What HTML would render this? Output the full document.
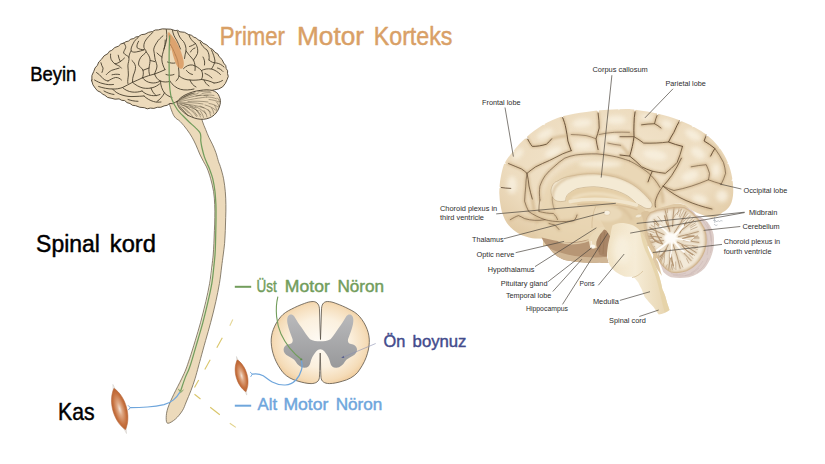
<!DOCTYPE html>
<html lang="tr">
<head>
<meta charset="utf-8">
<title>Primer Motor Korteks</title>
<style>
html,body{margin:0;padding:0;background:#fff;}
body{width:825px;height:464px;overflow:hidden;font-family:"Liberation Sans",sans-serif;}
svg{display:block;position:absolute;left:0;top:0;}
.big{font-family:"Liberation Sans",sans-serif;stroke-width:0.45;stroke-linejoin:round;}
.bk{stroke:#000;stroke-width:0.5;}
.lab{font-family:"Liberation Sans",sans-serif;font-size:7.3px;fill:#2e2e2e;}
.ld{stroke:#4a453e;stroke-width:0.7;fill:none;}
</style>
</head>
<body>
<svg width="825" height="464" viewBox="0 0 825 464">
<defs>
<radialGradient id="mus" cx="0.5" cy="0.5" r="0.5">
<stop offset="0" stop-color="#f1e0d2"/>
<stop offset="0.3" stop-color="#dfa884"/>
<stop offset="0.75" stop-color="#c6713f"/>
<stop offset="1" stop-color="#b8612f"/>
</radialGradient>
<radialGradient id="scg" cx="0.5" cy="0.5" r="0.55">
<stop offset="0" stop-color="#fefbf5"/>
<stop offset="0.55" stop-color="#fbf0de"/>
<stop offset="0.85" stop-color="#f5dcb8"/>
<stop offset="1" stop-color="#efc896"/>
</radialGradient>
<linearGradient id="gm" x1="0" y1="0" x2="0" y2="1">
<stop offset="0" stop-color="#b9b9bb"/>
<stop offset="1" stop-color="#98999b"/>
</linearGradient>
<filter id="b1" x="-20%" y="-20%" width="140%" height="140%"><feGaussianBlur stdDeviation="1"/></filter>
<filter id="b2" x="-20%" y="-20%" width="140%" height="140%"><feGaussianBlur stdDeviation="2"/></filter>
<filter id="b3" x="-30%" y="-30%" width="160%" height="160%"><feGaussianBlur stdDeviation="3.5"/></filter>
<filter id="b03" x="-10%" y="-10%" width="120%" height="120%"><feGaussianBlur stdDeviation="0.35"/></filter>
<filter id="b05" x="-20%" y="-20%" width="140%" height="140%"><feGaussianBlur stdDeviation="0.5"/></filter>
</defs>

<!-- ================= LEFT: SCHEMATIC ================= -->
<g id="left-schematic">
<!-- brainstem + spinal cord -->
<path id="cord" d="M168.0,100.0 C169.0,102.6 171.8,112.2 173.9,115.8 C176.0,119.4 178.2,119.3 180.3,121.6 C182.5,123.9 184.9,126.8 186.8,129.4 C188.8,132.0 190.5,134.6 192.0,137.2 C193.5,139.8 194.6,142.1 195.9,144.9 C197.2,147.7 198.4,151.2 199.7,154.0 C201.0,156.8 202.4,159.4 203.6,161.7 C204.8,164.0 205.8,165.2 207.0,168.0 C208.2,170.8 209.6,174.9 210.7,178.8 C211.8,182.8 212.9,187.4 213.6,191.7 C214.3,196.0 214.5,200.3 214.7,204.6 C214.9,208.9 214.9,213.3 214.8,217.6 C214.8,221.9 214.6,226.2 214.4,230.5 C214.2,234.8 214.1,239.3 213.9,243.4 C213.7,247.5 213.5,251.1 213.2,255.0 C212.8,258.9 212.4,262.2 211.8,267.0 C211.2,271.8 210.6,277.8 209.6,283.6 C208.6,289.4 207.3,295.2 205.8,301.7 C204.3,308.2 202.3,315.9 200.6,322.4 C198.8,328.9 197.1,334.5 195.3,340.5 C193.5,346.5 191.2,353.9 189.6,358.6 C188.0,363.4 187.3,365.6 186.0,369.0 C184.7,372.4 183.6,374.6 181.6,378.8 C179.6,383.0 176.1,389.5 173.8,394.3 C171.5,399.1 169.2,404.0 167.9,407.9 C166.6,411.8 166.2,415.0 166.2,417.6 C166.2,420.2 166.2,423.1 167.8,423.3 C169.4,423.5 173.1,421.1 175.5,419.0 C177.9,416.9 180.5,413.6 182.3,410.8 C184.1,408.0 184.8,405.4 186.2,402.0 C187.6,398.6 189.5,394.3 191.0,390.4 C192.5,386.5 193.8,382.7 195.0,378.8 C196.2,374.9 197.4,370.4 198.3,367.0 C199.2,363.6 199.4,363.0 200.6,358.6 C201.8,354.2 203.9,346.5 205.6,340.5 C207.3,334.5 209.0,328.9 210.7,322.4 C212.4,315.9 214.4,308.2 215.8,301.7 C217.2,295.2 218.4,289.4 219.4,283.6 C220.4,277.8 221.0,271.8 221.6,267.0 C222.2,262.2 222.7,258.9 223.2,255.0 C223.7,251.1 224.2,247.5 224.6,243.4 C224.9,239.3 225.1,234.8 225.3,230.5 C225.5,226.2 225.6,221.9 225.7,217.6 C225.8,213.3 226.0,208.9 225.9,204.6 C225.8,200.3 225.7,196.0 225.3,191.7 C224.9,187.4 224.4,183.0 223.6,178.8 C222.8,174.6 221.2,169.3 220.3,166.5 C219.5,163.7 219.2,164.0 218.5,161.7 C217.8,159.4 216.9,155.5 215.9,152.7 C214.9,149.9 213.9,147.5 212.7,144.9 C211.5,142.3 210.0,139.8 208.8,137.2 C207.6,134.6 206.7,132.1 205.6,129.4 C204.5,126.7 203.2,123.9 202.3,121.0 C201.4,118.1 202.1,115.5 200.0,112.0 C197.9,108.5 191.7,102.0 190.0,100.0 Z" fill="#ecdabb" stroke="#6e6553" stroke-width="0.8"/>

<!-- cartoon brain -->
<g id="cartoon-brain" stroke-linecap="round" stroke-linejoin="round">
<path d="M91.8,80.0 Q91.0,75.2 93.8,71.3 Q94.5,67.6 97.4,65.3 Q98.2,61.6 101.3,59.5 Q103.5,55.2 108.0,53.5 Q108.9,50.7 111.8,50.3 Q114.4,46.9 118.6,46.1 Q120.4,43.2 123.8,43.2 Q125.7,41.2 128.4,41.1 Q130.5,38.6 133.8,38.5 Q135.6,36.4 138.4,36.6 Q141.2,33.9 145.0,34.2 Q148.4,31.8 152.5,31.5 Q155.1,29.3 158.3,29.9 Q162.2,28.3 166.3,29.0 Q170.9,28.6 175.1,30.6 Q178.0,29.4 179.9,31.8 Q184.8,31.4 188.5,34.5 Q191.8,34.7 193.9,37.2 Q196.7,37.4 198.1,39.9 Q201.4,40.3 203.1,43.2 Q207.2,44.3 209.6,47.8 Q213.2,49.0 215.0,52.3 Q218.3,53.2 219.1,56.6 Q222.6,59.1 223.7,63.1 Q226.5,65.2 226.2,68.6 Q228.4,70.6 227.5,73.4 Q229.2,76.5 227.2,79.4 Q225.8,83.7 222.6,86.9 Q218.9,89.5 214.3,89.8 Q210.4,91.7 206.3,90.2 Q203.4,91.8 200.3,90.6 Q197.8,92.7 194.5,92.0 Q192.7,94.5 189.8,93.6 Q188.0,95.8 185.2,95.7 Q183.4,98.5 180.2,98.9 Q178.7,101.8 175.4,102.2 Q172.9,104.5 169.6,103.5 Q167.4,105.9 164.1,105.9 Q161.0,107.9 157.3,107.3 Q154.0,109.1 150.3,108.1 Q147.2,109.7 144.4,107.7 Q139.7,107.8 135.6,105.7 Q132.3,106.0 130.0,103.5 Q126.7,103.2 124.7,100.6 Q121.6,100.9 119.1,98.9 Q115.0,99.8 111.1,98.2 Q107.3,98.2 104.8,95.2 Q102.2,94.6 100.8,92.3 Q97.0,91.5 95.2,88.1 Q92.4,85.1 91.8,81.0 Q90.1,80.6 91.8,80.0 Z" fill="#ecdabb" stroke="#4a4030" stroke-width="0.9"/>
<g fill="none" stroke="#3f3626" stroke-width="0.85">
<path d="M123.6,42.8 C125,44.5 125.9,46 125.7,47.6 C125,49.8 123.5,51.3 123.6,53 C124.8,55 127.8,55.6 128.9,57.3 C129.5,60 127.9,63 127.9,65.9 C127.8,69 128.6,72 128.4,75 C128.2,78 127.3,80.5 127.9,83.5"/>
<path d="M138.6,36.9 C136.5,39 134.3,40.8 133.3,43.3 C132,45.8 130.6,48.5 131.1,50.9 C132.6,52.4 134.7,52.3 136.5,51.9 C139,51.5 141.6,50.8 144,49.8"/>
<path d="M138.6,41.2 C137.5,43.3 136.6,45.4 137,47.6 C139,49.3 141.6,49.6 144,49.8"/>
<path d="M152.7,32.5 C150,35.3 146.8,38 145.1,41.2 C144,43.3 143.6,45.5 144,47.6 C144.5,49.3 146.3,50.4 146.2,51.9 C145,54 142,55.3 140.8,57.3 C139.3,59.7 138.3,62.3 138.6,64.9 C139.6,67 142.2,68.3 143,70.3 C143.6,72.8 143.4,75.5 142.5,77.8"/>
<path d="M163,35.8 C160.8,37.8 158.4,39.7 157,42.2 C155.5,44.5 153.9,47.2 153.7,49.8 C153.7,52.4 154.9,54.7 154.8,57.3 C155,60.3 156.7,63 157,65.9 C157,68.8 155.3,71.3 154.6,74"/>
<path d="M110.6,54.1 C110.4,56 110.5,57.9 111.2,59.5 C112,61.3 113.4,62.8 114.9,63.8 C116.8,63.6 118.6,62.7 120.3,61.6 C121.8,60.5 123.2,59.3 124.5,58"/>
<path d="M118.2,55.2 C118.6,57.5 119.3,59.6 120.3,61.6"/>
<path d="M114.9,63.8 C116.5,64.9 118.2,65.5 119.2,66 C120.2,66.8 121,67.5 121.4,68.1"/>
<path d="M100.9,62.7 C101.3,64.6 102.2,66.5 103.1,68.1 C103,69.6 102.5,71 102,72.4"/>
<path d="M106.3,74.6 C108,72.8 109.8,71.3 111.7,70.3 C114,69.5 116.8,68.9 119.2,68.1"/>
<path d="M150.5,60.6 C152,60.9 153.5,61.2 154.8,61.6"/>
<path d="M96.5,72.5 C98.5,73.8 100.5,75.5 102,77.5 C103.5,79.3 105.6,80.6 108,81"/>
<path d="M94.5,80 C97,81.5 100,83 103,83.6 C106.5,84.6 110,85 113.5,84.5"/>
<path d="M98.6,86.5 C103,88 108,89 112.5,89 C116,89.2 119.5,88.6 122.5,87.5 C126,86 129,84 132.5,82.3 C136,80.8 139.5,79.3 142.5,77.8 C146.5,76.3 150.5,75 154.6,74 C158,72.8 161.5,71.3 165,69.7"/>
<path d="M108,81 C110.5,79.5 113,78 115.5,77.5 C118,77.3 120,78.5 121.5,80"/>
<path d="M112,74.8 C114.5,74.2 117,74 119.5,74.5"/>
<path d="M131.1,50.9 C129.8,53 129,55.2 128.9,57.3"/>
<path d="M132,60.5 C133.8,62 135,64 135.5,66.5 C135.7,69.5 134.6,72.3 133.5,75 C132.8,77 132.4,79.5 132.5,82"/>
<path d="M146.2,51.9 C148,54 149.6,56.5 150,59 C150.3,62 149.4,65 149,68 C148.8,70.2 148.9,72.5 149.5,74.5"/>
<path d="M143,70.3 C145,69.5 147,68.8 149,68"/>
<path d="M112.5,89 C115,92 118.5,94 122,95 C126,96.3 130,96.8 134,96.5 C137.5,96.3 141,96.3 144,96"/>
<path d="M104,91 C107,92.8 110.5,94 114,94.5"/>
<path d="M122.5,87.5 C125,90 128.5,91.6 132,92 C135.5,92.5 139,92 142,91"/>
<path d="M132.5,82.3 C135.5,85 139,87 143,88 C146.5,88.6 150,88.5 153,87.5 C155.5,86.8 157.5,85.5 159.5,84"/>
<path d="M144,96 C146.5,98.5 150,100.5 153.5,101.5 C156,102.3 158.5,102.3 161,102"/>
<path d="M142,91 C144.5,93.5 148,95 151.5,95.5 C154.5,96 157.5,95.5 160,94.5"/>
<path d="M128,99.5 C131,100.5 134.5,101.3 138,101.3"/>
<path d="M142.5,77.8 C144.5,80.5 147.5,82.3 151,82.8 C154,83.3 157,82.8 159.5,81.5"/>
<path d="M154.6,74 C155.5,77 157.5,79.8 160.5,81 C163.5,82.3 167,82.3 170,81.3"/>
<path d="M165,69.7 C163.3,66.5 162,63 161.8,59.5 C161.8,56 163,52.5 164,49 C164.8,46 165.3,43 165.2,40"/>
<path d="M166.3,29.5 C166.8,33 167,36.5 166.5,40 C166,43 165,46 164,49"/>
<path d="M157,53 C158.5,54.5 160,56 161.8,57"/>
<path d="M172.5,30.5 C173,34 174.5,37 176.5,40 C178,42.8 179.3,45.8 180.5,49"/>
<path d="M177.6,31.5 C178.5,35.5 180.5,39 183.5,41.5 C185.3,44.3 186.3,47.5 186,51 C185.5,53.5 184.6,56 184.5,58.5"/>
<path d="M188.9,35 C190,38.5 192.5,41.5 195.5,43.5 C197.5,46.5 198.2,50 197.5,53.5 C196.5,56 195,58 193.5,60"/>
<path d="M195.5,43.5 C193.5,45 191.5,46 189.5,46.5"/>
<path d="M200.2,42 C201.5,45.5 204,48 207,50 C209,53 209.6,56.5 209,60"/>
<path d="M211.5,50 C213,53.5 214.5,57 215,61 C214.5,64 213,66.5 211.5,69"/>
<path d="M186,51 C188,54 190.5,56.5 193.5,60 C195,63.5 195.5,67 195,70.5"/>
<path d="M183.5,68.6 C186,66 189,64.5 192.5,65 C196,66 199,68 201.5,70.5 C203,73.5 203,76.5 201.5,79.5"/>
<path d="M201.5,70.5 C204.5,69 207.5,68.5 211.5,69 C215,70 218,72 220.5,74.5"/>
<path d="M179,76 C182,78.5 186,80 190,80 C194,80.5 198,80 201.5,79.5 C206,80 210,81 214,83"/>
<path d="M170,81.3 C172.5,85 176,88 180.5,89.3 C185,90.5 189.5,90 194,89"/>
<path d="M175.5,55 C177.5,59 178.5,63 178.5,67.5 C179,70.5 179,73.5 179,76 C178.5,78 177.5,79.8 176,81"/>
<path d="M209,60 C211,62 213.5,63 216.5,63 C219.5,63.5 222,65 224,67"/>
<path d="M214,83 C217,83 220,82 222.5,80.5"/>
<path d="M160.5,81 C160.5,85.5 162,89.5 164.5,93 C166.5,95 169,96.5 172,97.5"/>
<path d="M151,88 C152,91 153.5,93.5 156,95.5"/>
<path d="M170,44 C172,47 173.5,50 175.5,55"/>
<path d="M203,57 C204.5,59.5 205,62 204.5,65"/>
<path d="M186.5,70.5 C188,72.5 190,74 192.5,74.5"/>
<path d="M205,73.5 C207.5,74.5 210,76 212,78"/>
<path d="M190,80 C191,83 193,85.5 196,87"/>
<path d="M204,80 C205,82.5 206.5,84.5 209,86"/>
<path d="M164.5,93 C162.5,96.5 160,99.5 157,101.5"/>
<path d="M167.5,62 C170,63 172.5,63.5 175,63"/>
<path d="M166,74.5 C168.5,75.5 171.5,75.5 174,74.5"/>
<path d="M217.5,68 C219.5,68.5 221.5,69.8 223,71.5"/>
<path d="M190.5,52 C191.5,50 193,48.5 195,48"/>
</g>
<!-- fillers behind cerebellum -->
<path d="M640,208 L655.5,207 C662,205 670,203.5 678,203.5 L686,205 L697,216 L690,222 L660,222 L652,262 L662,276 L658,262 L640,232 Z" fill="#dfc9a5"/>
<!-- cerebellum -->
<path d="M177,101.7 C179.5,98.5 182,96.5 185,95 C190,92.5 195,91 200.3,90.4 C204.5,89.7 208.5,89.6 212.4,90.4 C216,91.5 218.3,93.5 219.2,96.4 C220.5,99 220.8,102 220,104.7 C219,109 217,112.5 214,115.2 C211,117.5 207.5,119 203.3,119.3 C199,119.5 195,118.5 191.3,116.8 C188,115.5 185,113.8 183,111.5 C180.5,109.5 178.5,107.5 177.7,104.7 C177.2,103.7 177,102.7 177,101.7 Z" fill="#ecdabb" stroke="#4a4030" stroke-width="0.9"/>
<g fill="none" stroke="#4a4030" stroke-width="0.45">
<path d="M177.5,102 C185,100.5 195,98.5 206.5,97"/>
<path d="M178.5,100.5 C184,97.5 191,95 198,93.5"/>
<path d="M179.5,99.5 C184,96.5 189,94.5 194,93"/>
<path d="M181,98.5 C185,96 189,94.3 192,93"/>
<path d="M178,103.5 C182,104.5 186,106.5 190,109.5"/>
<path d="M178.5,105 C182,107 185.5,109.5 188.5,113"/>
<path d="M179.5,106.5 C182,108.8 184.5,111.5 186.5,114"/>
<path d="M179,102.8 C184,103.5 190,105 196,108"/>
<path d="M184,104 C190,104.5 197,105.5 204,108"/>
<path d="M188,101.5 C194,101 201,101 208,102"/>
<path d="M192,109.5 C194,111.5 196,113.5 197.5,116"/>
<path d="M196,110 C198,112 199.5,114.5 200.5,117"/>
<path d="M200,110.5 C201.5,112.5 203,115 203.5,117.5"/>
<path d="M204,110.5 C205.5,112.5 206.5,114.5 207,117"/>
<path d="M208,109.5 C209.5,111.5 210.3,113.5 210.5,115.5"/>
<path d="M211.5,108 C212.8,109.8 213.5,111.5 213.8,113.5"/>
<path d="M214.5,105.5 C215.8,107 216.5,108.8 216.8,110.5"/>
<path d="M216.5,102 C217.8,103.3 218.6,105 219,106.8"/>
<path d="M217.5,98 C218.5,99 219.3,100.5 219.8,102"/>
<path d="M202,93.5 C205,92.8 208,92.5 211,92.8"/>
<path d="M204,95.5 C207.5,94.8 211,94.8 214,95.5"/>
<path d="M177.8,101.2 C184,98.8 192,96.5 201,95"/>
<path d="M180,103 C187,102.3 195,102.5 203,104"/>
<path d="M181,104.8 C187,106 193,108 198.5,111"/>
<path d="M180,107.5 C183,110 186,113 188,116"/>
<path d="M183,107 C187,110 190.5,113.5 193,117"/>
<path d="M186,106.5 C190,109 194,112.5 196.5,116.5"/>
<path d="M190,106 C194,108 198,111 201,115"/>
<path d="M195,106.5 C199,108 203,110.5 206,114"/>
<path d="M200,106 C204,107.5 208,109.5 211,112.5"/>
<path d="M205,105 C209,106 212.5,107.5 215.5,110"/>
<path d="M209,103.5 C212.5,104 215.5,105 218,107"/>
<path d="M183.5,97.5 C187,95.3 191,93.8 195,92.8"/>
<path d="M196,96 C200,95.2 204,95 208,95.3"/>
<path d="M206.5,97 C210,97 213.5,97.5 216.5,98.8"/>
<path d="M209,99.5 C212.5,99.8 216,100.5 219,102"/>
<path d="M198,92 C202,91.3 206,91 210,91.3"/>
</g>
<!-- primary motor cortex -->
<path d="M169,32.5 C171.5,35 174.5,38.5 177,43 C180,48.5 182.5,55 183.6,61 C184.2,65 183.5,68.3 181.5,68.8 C179,69 176.5,66 174.8,61 C172.5,54 170.5,45 169.3,38 C168.8,35.5 168.6,33.5 169,32.5 Z" fill="#d9935a" fill-opacity="0.78"/>
<path d="M168.8,32.5 C169.8,36 170.3,42 170.2,50 C170,44 169.2,38 168.3,34 Z" fill="#d9935a" fill-opacity="0.6" stroke="#d9935a" stroke-opacity="0.5" stroke-width="1.2"/>
</g>
<!-- upper motor neuron (green) -->
<path d="M212.7,267.0 C212.4,269.8 211.7,277.8 210.7,283.6 C209.7,289.4 208.4,295.2 206.9,301.7 C205.4,308.2 203.5,315.9 201.8,322.4 C200.1,328.9 198.3,334.5 196.6,340.5 C194.8,346.5 192.8,353.9 191.3,358.6 C189.9,363.4 189.1,365.9 187.9,369.0 C186.7,372.1 185.6,374.0 184.2,377.4 C182.8,380.8 180.4,387.5 179.7,389.5 " fill="none" stroke="#dfe6cf" stroke-width="0.8" stroke-linecap="round"/>
<path d="M169.7,35.8 C169.6,38.2 169.3,45.1 169.2,50.0 C169.1,54.9 169.1,60.3 169.1,65.0 C169.1,69.7 169.2,74.2 169.3,78.0 C169.4,81.8 169.4,84.5 169.8,88.0 C170.2,91.5 170.4,95.1 171.7,98.7 C172.9,102.3 175.4,106.7 177.3,109.5 C179.2,112.3 180.9,113.7 182.9,115.8 C184.9,117.9 187.2,120.2 189.4,122.3 C191.6,124.3 194.1,126.3 195.9,128.1 C197.7,129.8 199.2,131.3 200.0,132.8 C200.8,134.3 200.7,135.6 200.8,137.0 C200.9,138.4 200.6,139.2 200.8,141.0 C201.0,142.8 201.3,144.9 201.9,147.5 C202.5,150.1 203.4,153.8 204.3,156.6 C205.2,159.3 206.4,161.9 207.3,164.0 C208.2,166.1 208.6,166.5 209.5,169.0 C210.4,171.5 211.9,175.0 212.8,178.8 C213.7,182.6 214.5,187.4 215.0,191.7 C215.5,196.0 215.7,200.3 215.9,204.6 C216.1,208.9 216.0,213.3 216.0,217.6 C216.0,221.9 215.9,226.2 215.8,230.5 C215.7,234.8 215.6,239.3 215.5,243.4 C215.4,247.5 215.3,251.1 215.0,255.0 C214.7,258.9 214.3,262.2 213.8,267.0 C213.3,271.8 212.8,277.8 211.8,283.6 C210.8,289.4 209.5,295.2 208.0,301.7 C206.5,308.2 204.6,315.9 202.9,322.4 C201.2,328.9 199.4,334.5 197.7,340.5 C195.9,346.5 193.8,353.9 192.4,358.6 C191.0,363.4 190.2,365.9 189.0,369.0 C187.8,372.1 186.7,373.7 185.3,377.4 C183.9,381.1 181.4,388.7 180.6,391.0 " fill="none" stroke="#729d5c" stroke-width="1.25" stroke-linecap="round"/>
<path d="M178.6,389.2 L180.6,392.6 L183.2,390.2" fill="none" stroke="#729d5c" stroke-width="0.9" stroke-linecap="round"/>

<!-- lower motor neuron to muscle 1 (blue) -->
<path d="M130.3,407.6 C136,407.6 142,407.4 147.4,407 C153,406.6 159,405.8 164,404.7 C168,403.6 171,402 173.5,399.9 C176,397.8 178,395.3 179.6,392.6" fill="none" stroke="#6fa6dc" stroke-width="1.2" stroke-linecap="round"/>
<path d="M128.3,405.6 L130.3,407.6 L128.5,409.8" fill="none" stroke="#6fa6dc" stroke-width="0.9" stroke-linecap="round"/>
<!-- muscle 1 -->
<g transform="translate(119.7,409) rotate(-15.5)">
<path d="M0,-25.5 L-1.6,-18.5 L1.6,-18.5 Z M0,25.5 L-1.6,18.5 L1.6,18.5 Z" fill="#f4f1ee" stroke="#cfc9c4" stroke-width="0.45"/>
<path d="M0,-21.5 C5,-15.5 7,-7.5 7,0 C7,7.5 5,15.5 0,21.5 C-5,15.5 -7,7.5 -7,0 C-7,-7.5 -5,-15.5 0,-21.5 Z" fill="url(#mus)" stroke="#b8663a" stroke-width="0.5"/>
</g>
<!-- dashed guide lines -->
<g stroke="#d9c56a" stroke-width="1.1" fill="none" stroke-linecap="butt">
<path d="M232.8,319.6 L229.8,325.7" stroke-opacity="0.7"/>
<path d="M222.3,337.7 L216.8,347.7"/>
<path d="M210.2,359.8 L204.8,369.4"/>
<path d="M198.7,380 L194.5,387.5"/>
<path d="M194.5,394.2 L200.5,399"/>
<path d="M210.2,407.2 L219.8,414.7"/>
<path d="M229.8,423.2 L235.8,427.4" stroke-opacity="0.8"/>
</g>
<!-- spinal cord cross-section -->
<g id="cross-section">
<path d="M319.5,310 C319.5,305 317.5,301.8 313.2,301.5 C310,301.5 307,302.4 304.6,303.4 C300,305 295.5,307 291.7,309 C287.5,311 283.5,313.5 280.9,316.6 C277.5,320.5 275,325 273.3,329.5 C271.8,333.5 271,338 271.2,342.4 C271.4,347.5 272.5,352.5 274.4,357.5 C276.5,363 279.5,368 283,372.6 C287,377 292.5,379.8 298.1,381.2 C302.5,382.5 307,383.6 311.1,383.6 C316,383.5 319,381.5 319.4,377.5 C319.7,373.5 319.6,372 319.7,370.5 C319.8,365 319.9,359 320.2,353 C320.5,359 320.6,365 320.7,370.5 C320.8,372 320.7,373.5 321,377.5 C321.4,381.5 324.4,383.5 329.3,383.6 C333.5,383.6 338,382.5 342.4,381.2 C348,379.8 353.5,377 357.5,372.6 C361,368 364,363 366.1,357.5 C368,352.5 369.1,347.5 369.3,342.4 C369.5,338 368.7,333.5 367.2,329.5 C365.5,325 363,320.5 359.6,316.6 C357,313.5 353,311 348.8,309 C345,307 340.5,305 335.9,303.4 C333.5,302.4 330.5,301.5 327.3,301.5 C323,301.8 321.5,305 321.5,310 C321.2,320 320.8,330 320.5,339.5 C320.1,330 319.8,320 319.5,310 Z" fill="url(#scg)" stroke="#5b5347" stroke-width="0.8" stroke-linejoin="round"/>
<!-- gray matter -->
<path d="M289.5,314.8 C291,314 293,314.5 294,316 C297,321 299.5,325 301.4,327.3 C304,331 307,336 310,339.2 C313,341 316.5,341.3 320.3,341.3 C324,341.3 327.5,341 330.5,339.2 C333.5,336 336.5,331 339.2,327.3 C341,325 343.5,321 346.5,316 C347.5,314.5 349.5,314 351,314.8 C353.5,316.5 353.8,320 353,324 C352,329 350,334 348,339.2 C347.5,342 348.5,343.5 351,344 C354,344.5 356.5,346 357,349 C357.3,352 355.5,354.5 352.5,356 C349.5,357.5 346.5,359 345,361.5 C343,365 340,367.5 336.5,367.8 C333,368 331,366 330.3,363 C329.5,359 327.5,355 324.5,351.5 C323,350 321.7,349.3 320.3,349.2 C318.9,349.3 317.6,350 316.1,351.5 C313.1,355 311.1,359 310.3,363 C309.6,366 307.6,368 304.1,367.8 C300.6,367.5 297.6,365 295.6,361.5 C294.1,359 291.1,357.5 288.1,356 C285.1,354.5 283.3,352 283.6,349 C284.1,346 286.6,344.5 289.6,344 C292.1,343.5 293.1,342 292.6,339.2 C290.6,334 288.6,329 287.6,324 C286.8,320 287,316.5 289.5,314.8 Z" fill="url(#gm)"/>
<!-- pointer to anterior horn -->
<path d="M375.7,343.5 L342.5,357.5" stroke="#8a8fb0" stroke-width="0.6" fill="none"/>
<path d="M341.2,358 L343.6,355.7 L344.3,357.9 Z" fill="#5c628e"/>
</g>
<!-- UMN into cross-section -->
<path d="M277.8,297 C276.3,303 276,310 276.6,316.6 C277.3,323 278.8,329 280.9,333.8 C283.3,339 286.3,343.8 289.5,347.8 C293,352 297,356 301.2,359.2" fill="none" stroke="#729d5c" stroke-width="1.1" stroke-linecap="round"/>
<circle cx="301.3" cy="359.5" r="1.1" fill="#5b8a4e"/>
<!-- LMN from cross-section to muscle 2 -->
<path d="M301.4,361 C302.3,364 302.3,367 301.4,370 C300.3,374 298.5,377.3 296,380 C293,383 289.3,384.8 285.2,385 C280.5,385.2 276,384 272.2,382 C268.5,380 266,377.5 263.2,375.8 C260,374 256,373.5 252.3,374.2" fill="none" stroke="#6fa6dc" stroke-width="1.2" stroke-linecap="round"/>
<path d="M250.3,372.2 L252.3,374.2 L250.8,376.6" fill="none" stroke="#6fa6dc" stroke-width="0.9" stroke-linecap="round"/>
<!-- muscle 2 -->
<g transform="translate(241.6,375.8) rotate(-15)">
<path d="M0,-20 L-1.3,-14 L1.3,-14 Z M0,20 L-1.3,14 L1.3,14 Z" fill="#f4f1ee" stroke="#cfc9c4" stroke-width="0.45"/>
<path d="M0,-16.5 C4,-12 5.6,-5.8 5.6,0 C5.6,5.8 4,12 0,16.5 C-4,12 -5.6,5.8 -5.6,0 C-5.6,-5.8 -4,-12 0,-16.5 Z" fill="url(#mus)" stroke="#b8663a" stroke-width="0.5"/>
</g>
<!-- label dashes -->
<path d="M234.8,286.8 H251.2" stroke="#729d5c" stroke-width="2" fill="none"/>
<path d="M234.8,405.7 H251.2" stroke="#6fa6dc" stroke-width="2" fill="none"/>
<!-- big labels -->
<text class="big" y="44.8" font-size="25" fill="#d9a066" stroke="#d9a066"><tspan x="219.8" textLength="65.2" lengthAdjust="spacingAndGlyphs">Primer</tspan> <tspan x="297" textLength="67" lengthAdjust="spacingAndGlyphs">Motor</tspan> <tspan x="373.8" textLength="78.6" lengthAdjust="spacingAndGlyphs">Korteks</tspan></text>
<text class="big" x="30.2" y="80.7" font-size="20" fill="#000" stroke="#000" textLength="46.2" lengthAdjust="spacingAndGlyphs">Beyin</text>
<text class="big" y="252.2" font-size="23.5" fill="#000" stroke="#000"><tspan x="36.1" textLength="63.8" lengthAdjust="spacingAndGlyphs">Spinal</tspan> <tspan x="109.8" textLength="46.1" lengthAdjust="spacingAndGlyphs">kord</tspan></text>
<text class="big" x="58.1" y="419.5" font-size="24" fill="#000" stroke="#000" textLength="36.5" lengthAdjust="spacingAndGlyphs">Kas</text>
<text class="big" y="292.4" font-size="17" fill="#729d5c" stroke="#729d5c"><tspan x="256.6" textLength="20.2" lengthAdjust="spacingAndGlyphs">Üst</tspan> <tspan x="284.8" textLength="45.0" lengthAdjust="spacingAndGlyphs">Motor</tspan> <tspan x="337.4" textLength="46.7" lengthAdjust="spacingAndGlyphs">Nöron</tspan></text>
<text class="big" y="410.2" font-size="17" fill="#6fa6dc" stroke="#6fa6dc"><tspan x="257.6" textLength="19.6" lengthAdjust="spacingAndGlyphs">Alt</tspan> <tspan x="283.4" textLength="45.0" lengthAdjust="spacingAndGlyphs">Motor</tspan> <tspan x="335.7" textLength="46.7" lengthAdjust="spacingAndGlyphs">Nöron</tspan></text>
<text class="big" y="347.4" font-size="17.2" fill="#434b8c" stroke="#434b8c"><tspan x="383.5" textLength="21.8" lengthAdjust="spacingAndGlyphs">Ön</tspan> <tspan x="412.6" textLength="53.9" lengthAdjust="spacingAndGlyphs">boynuz</tspan></text>
</g>

<!-- ================= RIGHT: ANATOMY FIGURE ================= -->
<g id="anatomy">
<defs>
<radialGradient id="cg" cx="0.48" cy="0.42" r="0.62">
<stop offset="0" stop-color="#f3e6cf"/>
<stop offset="0.7" stop-color="#eddcbf"/>
<stop offset="1" stop-color="#e2cba6"/>
</radialGradient>
<linearGradient id="bs" x1="0" y1="0" x2="1" y2="0">
<stop offset="0" stop-color="#efe0c1"/>
<stop offset="0.45" stop-color="#f6ecd6"/>
<stop offset="1" stop-color="#e6d3ae"/>
</linearGradient>
<clipPath id="cclip"><path id="cer-shape" d="M499.3,193 C499.3,187 499.8,182 500.8,177 C501.6,172.5 502.6,168 504,164.2 C506.3,159.6 509.5,155.5 512.9,151.7 C516.8,146.5 521.2,141.8 525.9,137.7 C531.3,132.8 537,128.5 543.1,124.8 C549.3,121.3 555.8,118.4 562.5,116.2 C570.2,114.2 578.1,112.8 586.2,111.9 C593.3,110.9 600.5,110.1 607.8,109.7 C615,109.2 622.2,108.9 629.4,109 C633.5,109.4 637.6,110 641.6,110.8 C648.9,111.8 656.1,113.2 663.1,115.1 C670.5,117 677.7,119.5 684.7,122.6 C692.3,125.8 699.5,129.8 706.2,134.5 C711,138.3 715.4,142.6 719.2,147.4 C722.8,152 725.7,157.1 727.8,162.5 C729.9,167.3 731.3,172.4 732.1,177.6 C733,182.6 733.4,187.6 733.2,192.7 C733,197 732.3,201.2 730.4,205 C728.5,208.5 726,210.5 722.7,212.3 C719.5,215.5 716,217.2 712.4,217.8 C708.8,217.5 705.4,216.3 702,214.8 C698.4,213.6 695,212 691.7,210.3 C689,208.5 686.5,206.5 683.9,204.6 C681,203.3 678,203.3 675,203.8 C671.8,204.5 668.8,205.3 665.8,206.2 C662.3,207 658.9,207.9 655.5,208.8 C652.5,211 650.5,214 650,218 L650,246 L543,246 C543,243.5 543,241 543,238.2 C539.4,238.5 535.8,238.5 532.3,238.2 C527.8,237.4 523.4,236.1 519.4,234 C514.5,231.5 510.3,227.8 507,223.3 C504,218.5 502,213.4 501,208 C500,203 499.4,198 499.3,193 Z"/></clipPath>
</defs>
<use href="#cer-shape" fill="url(#cg)"/>
<g clip-path="url(#cclip)">
<!-- medial inner zone shading -->
<path d="M540,246 C536,225 538,200 548,184 C558,168 580,158 602,157 C625,156 645,164 656,180 C664,192 664,205 660,212 L650,246 Z" fill="#e7d3af" filter="url(#b2)" opacity="0.75"/>
<!-- corpus callosum -->
<path d="M551,190 C552,184.5 554.5,182 557.2,181.3 C562,178 567,176.5 572.3,175.9 C579.5,174.3 586.7,173.6 593.9,173.7 C601.2,174.2 608.4,175.3 615.5,177 C621.6,178.8 627.4,181.3 632.7,184.5 C637.6,187.6 641.9,191.2 645.6,195.3 C648.6,198.3 651,201 652.1,203.9 C652.6,206.5 651.5,208.3 649,208.6 C646,208.8 643.5,207.5 641.5,206 C639.8,205 638.3,204.5 637,203.9 C634.3,201.2 631.4,198.7 628.4,196.4 C623.6,193.5 618.6,191.3 613.3,189.9 C607,188.2 600.5,187.1 593.9,186.7 C588.1,186.8 582.3,187.5 576.7,188.8 C573.5,190.2 570.6,192 568,194.2 C566,196.5 565.5,198.8 565.9,200.7 C562.5,202 558,202 554.8,200 C552,197.5 550.8,194 551,190 Z" fill="#f4ead4" stroke="#b89e78" stroke-width="0.5"/>
<!-- septum / ventricle region under CC -->
<path d="M568,194.4 C570.6,192.2 573.5,190.5 576.7,189.2 C582.3,187.9 588.1,187.3 593.9,187.2 C600.5,187.6 607,188.7 613.3,190.4 C618.6,191.8 623.6,194 628.4,196.9 C631.4,199.2 634.3,201.6 637,204.3 C630,205.5 620,206.5 610,207 C598,207.5 585,206.5 575,204.5 C571,203.5 567.5,201.5 566.2,200.5 C565.8,198.5 566.3,196.4 568,194.4 Z" fill="#e5cfa8"/>
<path d="M572,199 C580,193.5 596,192 612,195.5 C620,197.5 627,200.5 632,204" fill="none" stroke="#efdfc0" stroke-width="3" filter="url(#b1)"/>
</g>

<!-- gyri shading + sulci -->
<g clip-path="url(#cclip)">
<g fill="none" stroke="#d2b78f" stroke-width="3.2" stroke-linecap="round" stroke-linejoin="round" filter="url(#b1)" opacity="0.75">
<path d="M562.5,117.2 C564,121 565.2,124.5 565.8,128 C566.8,132.5 567.4,137 567.9,141 C569,144.5 570.1,147.8 571.2,150.7"/>
<path d="M527,137.7 C528.5,141 530.3,144 532.3,146.4 C537,146.5 542,145.6 546.4,144.2 C548.5,142.5 550.2,140.8 551.7,138.8 C555,137.5 560,136.5 565,136"/>
<path d="M508.6,163.6 C513,165.5 517.5,167.2 521.6,169 C523.5,170.3 525.3,171.8 527,173.3 C528,177.5 528.6,182 529,186 C530,190.5 531.1,195 532.3,199 C533,206 534.5,214 537,222"/>
<path d="M527,173.3 C529.8,171 532.7,168.8 535.6,166.8 C540.2,164.5 544.9,162.4 549.6,160.4 C554,158.3 558.3,156.1 562.5,153.9 C565.4,152.7 568.3,151.7 571.2,150.7"/>
<path d="M539.9,200 C539.3,195 539.2,190.5 539.9,186.2 C541.2,182.3 543,178.7 545.3,175.5 C547.8,172.3 550.7,169.4 553.9,166.8 C557.3,163.6 560.9,160.7 564.7,158.2 C568.2,156.7 571.8,155.6 575.5,155 C582.6,154.1 589.8,153.7 597,153.9 C602.1,154.3 607.1,155 612.1,156 C618,157 624,159 629.7,161 C636,164 642,168 648,172.5 C653,177 657,182 660,187.5 C662,192 663,197 663,202"/>
<path d="M598.1,113 C598.8,118 599.2,123 599.2,128 C598.3,131.7 597.2,135.3 596,138.8 C596.5,142.5 597.2,146 598.1,149.6 C598,151.5 597.5,153 597,154"/>
<path d="M571.2,134.5 C576.2,134.6 581.2,135 586.2,135.6 C589.6,136.4 592.9,137.5 596,138.8"/>
<path d="M599.2,134.5 C604.2,133.4 609.2,132.6 614.3,132.3 C619.3,132.1 624.4,132.1 629.4,132.3 L634,136.7"/>
<path d="M607.8,143.1 C612,144.1 616.4,144.8 620.7,145.3 C624,148 627,152 629.7,156.1"/>
<path d="M635.1,111.9 C634.4,115.8 634,119.7 634,123.7 C633.8,128 633.8,132.4 634,136.7 C633.2,143.3 631.7,149.8 629.7,156.1"/>
<path d="M657.7,114 C656.3,117.1 655.2,120.4 654.5,123.7 C656.8,124.9 659,126.3 661,128 M641.6,124.8 C645.9,124.2 650.2,123.8 654.5,123.7"/>
<path d="M680.4,119.4 C677.9,123.5 675.7,127.8 673.9,132.3 C671.9,135.4 670.1,138.6 668.5,142 C673,143.8 677.7,145.2 682.5,146.4"/>
<path d="M707.3,133.4 C706,135.8 704.9,138.4 704.1,141 C707.9,143.2 711.5,145.7 714.9,148.5 C713.3,150.9 711.9,153.4 710.6,156.1"/>
<path d="M620,136.7 L634,136.7 C637.4,138.6 640.6,140.7 643.7,143.1 C652,143.4 660.3,143 668.5,142"/>
<path d="M620,155 L629.7,156.1 C633.9,159.4 637.9,163 641.6,166.8 C645,168.5 648.6,170 652.3,171.2 C650.6,174.6 649.2,178.2 648,181.9"/>
<path d="M652.3,171.2 C656.6,172.2 661,172.9 665.3,173.3 C669.6,170.1 673.5,166.5 677.1,162.5 C679.3,157.3 681.1,151.9 682.5,146.4"/>
<path d="M681.4,158.2 C678.6,164.2 675.3,170 671.7,175.5 C669,179.2 666.2,182.8 663.1,186.2"/>
<path d="M691.2,166.8 C696.2,165.8 701.2,165.1 706.2,164.7 C707.5,167.5 708.6,170.4 709.5,173.3 C709.3,175.5 708.9,177.7 708.4,179.8 C712.6,181.4 716.9,182.8 721.3,184"/>
<path d="M714.9,148.5 C718.1,152.9 721,157.6 723.5,162.5 C724.6,166 725.3,169.6 725.6,173.3 C724.5,177 723,180.6 721.3,184"/>
<path d="M663.1,186.2 C666.6,187.9 670.2,189.4 673.9,190.5 C679.7,189.4 685.5,188 691.2,186.2 C697,184.3 702.8,182.2 708.4,179.8"/>
<path d="M663.1,186.2 C670,192 678,197 686,200.5 C694,204 703,207 712,209"/>
<path d="M510.3,219.7 C513,218 515.8,216.5 518.5,215.6 C520.6,216.4 522.6,217.5 524.6,218.6 C531,220.5 538,221 545.1,219.7"/>
<path d="M526.7,173.6 C526.2,178 525.8,182.5 525.7,186.9 C525.2,191.7 524.8,196.5 524.6,201.2 C525.6,204.8 527,208.3 528.7,211.5 C533.8,215 539.3,217.8 545.1,219.7 C549.8,220.9 554.6,221.6 559.5,221.7 C564.3,221.8 569.1,221.5 573.8,220.7 C575.5,219 576.5,217 577,215"/>
<path d="M539,211.5 C544,212.8 549,213.5 553.3,213.5 C555.5,215.5 557,217.5 557.5,219.5"/>
<path d="M549,223.5 C551,224.2 552.8,224.6 554.4,224.8 C556.5,226.5 558,228 559,229.5"/>
<path d="M554.4,209.4 C552.8,205.4 552,201.3 552.3,197.1 C552.6,193.5 553.6,190 555.4,186.9 C558,183.5 561.5,180.7 565.6,178.7 C570.2,176.6 575,175.2 580,174.6 C586,173.8 592,173.5 598,173.6 C606,174 614,175.5 621,178 C628,180.5 634,184 639,188 C644,192 648,196 651,200" stroke-width="2.2"/>
<path d="M686,200.5 C692,203.5 700,206.5 708,208.5"/>
<path d="M663.1,186.2 C660,190 657.5,194.5 656,199 C655,202 654.8,204.5 655.5,207"/>
</g>
<!-- highlights on gyri -->
<g fill="#f8f0df" filter="url(#b2)" opacity="0.85">
<ellipse cx="545" cy="134" rx="9" ry="4" transform="rotate(-28 545 134)"/>
<ellipse cx="518" cy="154" rx="7" ry="4" transform="rotate(-50 518 154)"/>
<ellipse cx="582" cy="123" rx="10" ry="4.5" transform="rotate(-6 582 123)"/>
<ellipse cx="616" cy="120" rx="10" ry="4.5"/>
<ellipse cx="646" cy="117" rx="6" ry="3"/>
<ellipse cx="667" cy="124" rx="6" ry="4" transform="rotate(20 667 124)"/>
<ellipse cx="693" cy="135" rx="9" ry="4.5" transform="rotate(30 693 135)"/>
<ellipse cx="655" cy="155" rx="12" ry="5" transform="rotate(10 655 155)"/>
<ellipse cx="698" cy="153" rx="8" ry="5" transform="rotate(35 698 153)"/>
<ellipse cx="583" cy="145" rx="9" ry="4"/>
<ellipse cx="612" cy="138" rx="7" ry="3"/>
<ellipse cx="553" cy="152" rx="9" ry="4" transform="rotate(-25 553 152)"/>
<ellipse cx="690" cy="176" rx="9" ry="5" transform="rotate(-20 690 176)"/>
<ellipse cx="716" cy="170" rx="4" ry="7"/>
<ellipse cx="600" cy="164" rx="22" ry="3.5"/>
<ellipse cx="512" cy="185" rx="5" ry="9"/>
<ellipse cx="722" cy="196" rx="6" ry="6"/>
<ellipse cx="700" cy="199" rx="8" ry="4" transform="rotate(15 700 199)"/>
</g>
<g fill="none" stroke="#5e4730" stroke-width="0.8" stroke-linecap="round" stroke-linejoin="round" opacity="0.95" filter="url(#b03)">
<path d="M562.5,117.2 C564,121 565.2,124.5 565.8,128 C566.8,132.5 567.4,137 567.9,141 C569,144.5 570.1,147.8 571.2,150.7" stroke-width="0.95"/>
<path d="M527,137.7 C528.5,141 530.3,144 532.3,146.4 C537,146.5 542,145.6 546.4,144.2 C548.5,142.5 550.2,140.8 551.7,138.8" stroke-width="0.9"/>
<path d="M508.6,163.6 C513,165.5 517.5,167.2 521.6,169 C523.5,170.3 525.3,171.8 527,173.3 C528,177.5 528.6,182 529,186 C530,190.5 531.1,195 532.3,199"/>
<path d="M527,173.3 C529.8,171 532.7,168.8 535.6,166.8 C540.2,164.5 544.9,162.4 549.6,160.4 C554,158.3 558.3,156.1 562.5,153.9 C565.4,152.7 568.3,151.7 571.2,150.7"/>
<path d="M501,187.5 C504,188 507.5,188.3 510.8,188.4" stroke-width="0.9"/>
<path d="M539.9,200 C539.3,195 539.2,190.5 539.9,186.2 C541.2,182.3 543,178.7 545.3,175.5 C547.8,172.3 550.7,169.4 553.9,166.8 C557.3,163.6 560.9,160.7 564.7,158.2 C568.2,156.7 571.8,155.6 575.5,155 C582.6,154.1 589.8,153.7 597,153.9 C602.1,154.3 607.1,155 612.1,156 C618,157 624,159 629.7,161" stroke-width="0.6"/>
<path d="M598.1,113 C598.8,118 599.2,123 599.2,128 C598.3,131.7 597.2,135.3 596,138.8 C596.5,142.5 597.2,146 598.1,149.6" stroke-width="0.85"/>
<path d="M571.2,134.5 C576.2,134.6 581.2,135 586.2,135.6 C589.6,136.4 592.9,137.5 596,138.8" stroke-width="0.5"/>
<path d="M599.2,134.5 C604.2,133.4 609.2,132.6 614.3,132.3 C619.3,132.1 624.4,132.1 629.4,132.3" stroke-width="0.5"/>
<path d="M607.8,143.1 C612,144.1 616.4,144.8 620.7,145.3" stroke-width="0.5"/>
<path d="M635.1,111.9 C634.4,115.8 634,119.7 634,123.7 C633.8,128 633.8,132.4 634,136.7 C633.2,143.3 631.7,149.8 629.7,156.1" stroke-width="0.95"/>
<path d="M657.7,114 C656.3,117.1 655.2,120.4 654.5,123.7 C656.8,124.9 659,126.3 661,128 M641.6,124.8 C645.9,124.2 650.2,123.8 654.5,123.7" stroke-width="0.8"/>
<path d="M680.4,119.4 C677.9,123.5 675.7,127.8 673.9,132.3 C671.9,135.4 670.1,138.6 668.5,142 C673,143.8 677.7,145.2 682.5,146.4" stroke-width="0.95"/>
<path d="M707.3,133.4 C706,135.8 704.9,138.4 704.1,141 C707.9,143.2 711.5,145.7 714.9,148.5 C713.3,150.9 711.9,153.4 710.6,156.1" stroke-width="0.95"/>
<path d="M620,136.7 L634,136.7 C637.4,138.6 640.6,140.7 643.7,143.1 C652,143.4 660.3,143 668.5,142"/>
<path d="M620,155 L629.7,156.1 C633.9,159.4 637.9,163 641.6,166.8 C645,168.5 648.6,170 652.3,171.2 C650.6,174.6 649.2,178.2 648,181.9" stroke-width="0.9"/>
<path d="M652.3,171.2 C656.6,172.2 661,172.9 665.3,173.3 C669.6,170.1 673.5,166.5 677.1,162.5 C679.3,157.3 681.1,151.9 682.5,146.4"/>
<path d="M681.4,158.2 C678.6,164.2 675.3,170 671.7,175.5 C669,179.2 666.2,182.8 663.1,186.2"/>
<path d="M691.2,166.8 C696.2,165.8 701.2,165.1 706.2,164.7 C707.5,167.5 708.6,170.4 709.5,173.3 C709.3,175.5 708.9,177.7 708.4,179.8 C712.6,181.4 716.9,182.8 721.3,184" stroke-width="0.6"/>
<path d="M714.9,148.5 C718.1,152.9 721,157.6 723.5,162.5 C724.6,166 725.3,169.6 725.6,173.3 C724.5,177 723,180.6 721.3,184" stroke-width="0.6"/>
<path d="M663.1,186.2 C666.6,187.9 670.2,189.4 673.9,190.5 C679.7,189.4 685.5,188 691.2,186.2 C697,184.3 702.8,182.2 708.4,179.8" stroke-width="0.6"/>
<path d="M510.3,219.7 C513,218 515.8,216.5 518.5,215.6 C520.6,216.4 522.6,217.5 524.6,218.6 C531,220.5 538,221 545.1,219.7" stroke-width="0.6"/>
<path d="M527,173.3 C526.2,178 525.8,182.5 525.7,186.9 C525.2,191.7 524.8,196.5 524.6,201.2 C525.6,204.8 527,208.3 528.7,211.5 C533.8,215 539.3,217.8 545.1,219.7 C549.8,220.9 554.6,221.6 559.5,221.7 C564.3,221.8 569.1,221.5 573.8,220.7 C575.5,219 576.5,217 577,215" stroke-width="0.6"/>
<path d="M539,211.5 C544,212.8 549,213.5 553.3,213.5 C555.5,215.5 557,217.5 557.5,219.5" stroke-width="0.55"/>
<path d="M549,223.5 C551,224.2 552.8,224.6 554.4,224.8 C556.5,226.5 558,228 559,229.5" stroke-width="0.55"/>
<path d="M539.9,200 C539,204 538.8,208 539,211.5" stroke-width="0.6"/>
<path d="M554.4,209.4 C552.8,205.4 552,201.3 552.3,197.1" stroke-width="0.5" opacity="0.7"/>
<path d="M663.1,186.2 C670,192 678,197 686,200.5 C694,204 703,207 712,209" stroke-width="0.8"/>
<path d="M663.1,186.2 C660,190 657.5,194.5 656,199 C655,202 654.8,204.5 655.5,207" stroke-width="0.7"/>
<path d="M629.7,161 C636,164 642,168 648,172.5 C653,177 657,182 660,187.5" stroke-width="0.55"/>
</g>
</g>
<!-- outline notches -->
<g fill="#fff">
<path d="M526.8,135.4 Q527.2,137.6 528.7,139.0 Q526.8,138.2 524.7,138.8 Z"/>
<path d="M563.2,113.9 Q562.7,116.1 563.5,118.0 Q562.1,116.5 559.9,116.2 Z"/>
<path d="M599.8,108.8 Q598.5,110.6 598.5,112.7 Q597.7,110.8 595.8,109.6 Z"/>
<path d="M637.4,108.6 Q635.5,109.7 634.6,111.5 Q634.7,109.5 633.5,107.7 Z"/>
<path d="M660.2,113.6 Q658.1,114.2 656.8,115.8 Q657.3,113.8 656.6,111.7 Z"/>
<path d="M682.9,121.1 Q680.7,121.2 679.1,122.4 Q680.1,120.6 679.9,118.5 Z"/>
<path d="M709.6,136.2 Q707.5,135.6 705.6,136.4 Q707.1,135.0 707.5,132.8 Z"/>
<path d="M503.7,160.7 Q504.7,162.6 506.5,163.6 Q504.5,163.4 502.6,164.5 Z"/>
<path d="M498.0,185.4 Q499.4,187.1 501.4,187.6 Q499.4,187.9 497.8,189.4 Z"/>
<path d="M544.1,122.2 Q544.3,124.1 544.9,125.2 Q543.7,124.7 541.8,124.5 Z"/>
<path d="M620.7,107.8 Q619.4,109.2 618.9,110.4 Q618.6,109.2 617.5,107.6 Z"/>
<path d="M695.2,126.7 Q693.3,126.8 692.1,127.3 Q692.7,126.2 693.1,124.3 Z"/>
<path d="M721.5,148.6 Q719.7,148.2 718.4,148.3 Q719.3,147.4 720.2,145.7 Z"/>
<path d="M730.2,164.6 Q728.4,163.9 727.1,163.8 Q728.2,163.1 729.3,161.6 Z"/>
<path d="M734.0,181.4 Q732.4,180.4 731.1,180.2 Q732.2,179.6 733.6,178.2 Z"/>
<path d="M512.8,148.9 Q513.7,150.6 514.6,151.5 Q513.3,151.4 511.5,151.9 Z"/>
</g>
<!-- temporal lobe (shadowed) -->
<path d="M541.5,237.5 C547,239 553,240.3 559.2,241.2 C564,242.3 571,242.5 577,241.8 C581,241.2 585,240.3 588.3,239.6 C591,239 593.5,238.6 594.8,238 C596,234 599,230.8 602.9,229.1 C605,229.5 606.6,230.3 607.7,231.5 C609,232.5 610,233.5 610.9,234.7 C610.8,237 610.5,239.5 610.1,242 C609.3,244.8 608.5,247.3 607.7,250 C607.2,252.2 606.9,254.3 606.9,256.5 C607.2,258.8 607.7,261 608.5,263 C605.5,263.2 602.5,262.8 599.6,262.4 C594,262.8 589,262.6 583.5,262.4 C578,262.2 572.5,261.6 567.3,260.6 C563.8,259.8 560.5,258.4 557.6,256.5 C554.5,254.3 551.8,251.6 549.5,248.5 C547,246 544.8,243.3 543,240.4 Z" fill="#b79675"/>
<path d="M549.5,248.5 C551.8,251.6 554.5,254.3 557.6,256.5 C560.5,258.4 563.8,259.8 567.3,260.6 C572.5,261.6 578,262.2 583.5,262.4 C589,262.6 594,262.8 599.6,262.4 C602.5,262.8 605.5,263.2 608.5,263 C607.7,261 607.2,258.8 606.9,256.8 C600,257.6 592,257.6 585,257 C577,256.5 569,255.3 562,253 C557.5,251.8 553.5,250.3 549.5,248.5 Z" fill="#d0b695"/>
<path d="M595.1,238.1 C596,235.5 597,233.5 598.3,232.3 C599.8,230.8 601.3,229.8 602.9,229.4 C604.6,229.8 606.3,230.5 607.7,231.5 C609,232.4 610,233.5 610.9,234.7 C610.8,237 610.5,239.5 610.1,242 C609.3,244.8 608.5,247.3 607.7,250.1 C607.2,252.2 606.9,254.3 606.9,256.5 C604.5,256.3 602,255.7 599.6,254.9 C598.5,252.9 597.7,250.7 597.2,248.5 L594.8,247.7 Z" fill="#a88566"/>
<path d="M601,233 L599.5,252 M604.5,232 L603,254" stroke="#94714f" stroke-width="0.7" fill="none" opacity="0.6" filter="url(#b05)"/>
<!-- optic nerve strip -->
<path d="M559,241.8 C565,243.6 572,244 578,243.2 C583,242.5 587,241.3 590,240" fill="none" stroke="#dcc7a6" stroke-width="1.6" stroke-linecap="round"/>
<!-- hypothalamus / infundibulum light band -->
<path d="M588.5,239.4 C590.5,236 594,231.5 598,228.5 C600.5,226.8 603.5,226.5 606,228 C604.5,229 603,230.5 602,232 C599.5,234.5 597.5,238 596.5,241.5 C596,244 596.3,246 597,247.5 C595,249 592,249 590.3,247.6 C589.5,245 589.3,242.5 588.5,239.4 Z" fill="#ead9b8"/>
<ellipse cx="592.6" cy="246.6" rx="2.6" ry="2" fill="#fbf7ee"/>
<path d="M591.4,245 L591.2,241" stroke="#f5ecdc" stroke-width="1.4" fill="none"/>

<!-- brainstem -->
<path d="M596,203 C606,205.5 618,206 630,205 C636,204.5 640,205.5 643,208 C646,211 648,215 648,219 L648,240 L610,236 C606,230 601,222 598,214 Z" fill="#e3cea9"/>
<!-- fornix, thalamus, pineal -->
<g clip-path="url(#cclip)">
<path d="M570,201.5 C580,199.5 592,198.8 604,199.5 C616,200.3 627,202.3 636.5,205" fill="none" stroke="#f1e5cc" stroke-width="3.4" stroke-linecap="round"/>
<path d="M578,204.8 C590,203.3 604,203.6 618,205.3 C626,206.3 632,207.8 637,209.5" fill="none" stroke="#d9bf98" stroke-width="1.5" stroke-linecap="round" filter="url(#b05)"/>
<ellipse cx="607" cy="214" rx="15" ry="7.5" fill="#ead9b9" filter="url(#b1)"/>
<path d="M618,206 C624,209 629,214 632,220" fill="none" stroke="#dcc49e" stroke-width="3" filter="url(#b1)"/>
<ellipse cx="607" cy="212.8" rx="3.3" ry="2.6" fill="#f7f0e0" stroke="#d9c19b" stroke-width="0.6"/>
<ellipse cx="638.5" cy="216" rx="3.2" ry="1.7" fill="#f3e9d4" stroke="#d3ba93" stroke-width="0.4" transform="rotate(-12 638.5 216)"/>
<path d="M596,206 C593,212 591.5,220 592,228" fill="none" stroke="#d9c19b" stroke-width="1" filter="url(#b05)"/>
</g>
<path id="bstem" d="M612.4,225.5 C615,224 618,223.2 621,223 C624.5,223 628,223.6 631.4,224.7 C634.8,226 637.8,228 640,230.7 C642.3,233.2 644,236.1 645.2,239.3 C646.3,242.8 647.4,246.3 648.6,249.7 C650.3,253.7 652,257.7 653.8,261.7 C655.8,266.2 657.6,270.8 659,275.5 C660.4,280 661.5,284.6 662.4,289.3 C663.4,291.5 664.4,293.7 665.2,296 C666.4,300.7 667.8,305.4 669.5,310 C666.5,312.6 662.5,314.2 658.7,314.4 C656.8,311.9 655,309.4 653.3,306.8 C650.3,303.6 647.4,300.4 644.7,297.1 C643.6,294.5 642.6,291.9 641.7,289.3 C640.5,287 639.3,284.7 638.3,282.4 C636.7,280.3 635,278.3 633.1,276.4 C630.2,276.8 627.3,276.8 624.5,276.4 C621.4,275.5 618.5,274 615.9,272.1 C613.5,270.1 611.4,267.8 609.8,265.2 C608.3,261.9 607.5,258.4 607.2,254.8 C607.2,251.3 607.5,247.9 608.1,244.5 C608.8,241 609.7,237.5 610.7,234.1 C611,231.2 611.5,228.3 612.4,225.5 Z" fill="url(#bs)"/>
<!-- posterior strip of medulla -->
<path d="M640,230.7 C642.3,233.2 644,236.1 645.2,239.3 C646.3,242.8 647.4,246.3 648.6,249.7 C650.3,253.7 652,257.7 653.8,261.7 C655.8,266.2 657.6,270.8 659,275.5 C660.4,280 661.5,284.6 662.4,289.3 C663.4,291.5 664.4,293.7 665.2,296 C666.4,300.7 667.8,305.4 669.5,310 L664.8,312.5 C663,306 661.5,300 660.2,294 C658.8,287 657,280 654.5,273 C652,266 649,258 645.5,251 C643,245 641,238 640,230.7 Z" fill="#e5d2a6" opacity="0.8"/>
<!-- pons highlight -->
<ellipse cx="622" cy="250" rx="9" ry="15" fill="#f8f0de" filter="url(#b3)" opacity="0.9"/>
<path d="M632,277.5 C636,277 640,274.5 643,271" fill="none" stroke="#d8c39c" stroke-width="0.8" filter="url(#b05)"/>

<!-- cerebellum -->
<path d="M683.9,207.5 C690,208 694,211 695.6,214.5 C700,216.5 704,219 707.2,221.7 C710.5,225.5 712.8,230 713.6,234.6 C714.5,240.5 714,247 712.4,252.7 C710.8,258.5 708.2,263.8 704.6,268.2 C700.5,272.5 695,275.5 689,277.2 C683,278.3 677,278.3 671,277.2 C668,276 665.5,274.2 663.3,272 L655,250 Z" fill="#ddcdc8"/>
<g stroke="#c7b3b0" stroke-width="0.5" fill="none" opacity="0.85">
<path d="M700,218 C707,224 711,233 711.5,242"/><path d="M704,227 C708,236 709,246 707,255"/><path d="M708,258 C706,264 702,269 697,272.5"/><path d="M703,261 C700,266 696,270 691,273"/><path d="M694,273.5 C688,276 680,276.5 673,275"/><path d="M686,273 C681,275 676,275 671,273.5"/><path d="M710,230 C712,238 712,246 710.5,253"/><path d="M706.5,222 C709.5,228 711,235 711,241"/><path d="M699,268 C695,272 690,274.5 685,275.5"/>
</g>
<clipPath id="cbclip"><path d="M650.3,212.6 C655,210.5 660.5,209.3 665.8,208.8 C672,207.6 678,207.1 683.9,207.5 C688.5,209.5 692.5,212.5 695.6,216.5 C699.5,220.2 702.5,224.6 704.6,229.4 C706.2,234.5 706.6,239.8 705.9,245 C705,250.5 702.8,255.8 699.4,260.4 C696,264.8 691.6,268.4 686.5,270.8 C681.5,272.6 676.2,273 671,272 C666.8,270 663.3,266.9 660.7,263 C658,259 655.8,254.6 654.2,250 C651.5,246 649.3,241.7 647.8,237.2 C646.2,232.2 645.3,227 645.2,221.7 C646,218 647.7,215 650.3,212.6 Z"/></clipPath>
<path d="M650.3,212.6 C655,210.5 660.5,209.3 665.8,208.8 C672,207.6 678,207.1 683.9,207.5 C688.5,209.5 692.5,212.5 695.6,216.5 C699.5,220.2 702.5,224.6 704.6,229.4 C706.2,234.5 706.6,239.8 705.9,245 C705,250.5 702.8,255.8 699.4,260.4 C696,264.8 691.6,268.4 686.5,270.8 C681.5,272.6 676.2,273 671,272 C666.8,270 663.3,266.9 660.7,263 C658,259 655.8,254.6 654.2,250 C651.5,246 649.3,241.7 647.8,237.2 C646.2,232.2 645.3,227 645.2,221.7 C646,218 647.7,215 650.3,212.6 Z" fill="#f3ead9" stroke="#cfb391" stroke-width="1.2"/>
<g clip-path="url(#cbclip)">
<g stroke="#cdb38f" stroke-width="2.6" fill="none" stroke-linecap="round" filter="url(#b1)" opacity="0.55">
<path d="M661.5,237.6 Q654.9,236.2 648.0,236.0"/>
<path d="M664.4,234.8 Q656.8,231.9 649.9,227.6"/>
<path d="M663.7,229.4 Q657.8,225.7 654.4,219.7"/>
<path d="M669.9,231.7 Q667.6,219.8 664.7,208.0"/>
<path d="M672.6,226.6 Q672.8,216.8 674.1,207.1"/>
<path d="M674.2,233.1 Q681.4,223.1 686.1,211.7"/>
<path d="M679.9,231.4 Q687.3,226.3 693.9,220.2"/>
<path d="M678.3,236.7 Q688.4,234.6 698.3,231.6"/>
<path d="M683.4,240.2 Q691.1,241.2 698.8,242.4"/>
<path d="M677.5,242.1 Q687.4,246.3 696.2,252.6"/>
<path d="M679.6,247.4 Q684.5,254.6 691.0,260.6"/>
<path d="M673.1,244.3 Q677.5,256.1 680.2,268.4"/>
<path d="M670.4,249.4 Q670.3,259.7 668.7,269.8"/>
<path d="M668.3,244.7 Q663.8,253.2 659.4,261.7"/>
<path d="M663.7,244.8 Q659.3,250.8 652.7,254.6"/>
<path d="M663.7,240.5 Q655.8,240.6 648.3,243.6"/>
</g>
<g stroke="#a88a68" stroke-width="0.8" fill="none" stroke-linecap="round">
<path d="M661.5,237.6 Q654.9,236.2 648.0,236.0"/>
<path d="M664.4,234.8 Q656.8,231.9 649.9,227.6"/>
<path d="M663.7,229.4 Q657.8,225.7 654.4,219.7"/>
<path d="M669.9,231.7 Q667.6,219.8 664.7,208.0"/>
<path d="M672.6,226.6 Q672.8,216.8 674.1,207.1"/>
<path d="M674.2,233.1 Q681.4,223.1 686.1,211.7"/>
<path d="M679.9,231.4 Q687.3,226.3 693.9,220.2"/>
<path d="M678.3,236.7 Q688.4,234.6 698.3,231.6"/>
<path d="M683.4,240.2 Q691.1,241.2 698.8,242.4"/>
<path d="M677.5,242.1 Q687.4,246.3 696.2,252.6"/>
<path d="M679.6,247.4 Q684.5,254.6 691.0,260.6"/>
<path d="M673.1,244.3 Q677.5,256.1 680.2,268.4"/>
<path d="M670.4,249.4 Q670.3,259.7 668.7,269.8"/>
<path d="M668.3,244.7 Q663.8,253.2 659.4,261.7"/>
<path d="M663.7,244.8 Q659.3,250.8 652.7,254.6"/>
<path d="M663.7,240.5 Q655.8,240.6 648.3,243.6"/>
</g>
<g stroke="#b0926f" stroke-width="0.6" fill="none" stroke-linecap="round">
<path d="M652.3,234.5 L648.3,233.7"/>
<path d="M654.2,232.7 L648.9,230.8"/>
<path d="M655.8,231.0 L649.7,228.2"/>
<path d="M656.1,231.4 Q654.3,226.8 654.4,222.8"/>
<path d="M653.9,226.9 L651.1,225.0"/>
<path d="M658.4,226.1 L653.1,221.7"/>
<path d="M658.3,224.2 L654.4,219.9"/>
<path d="M662.1,222.0 L657.9,216.5"/>
<path d="M667.4,212.5 L667.5,207.3"/>
<path d="M672.8,218.2 Q676.0,213.1 681.0,209.6"/>
<path d="M677.5,214.6 L679.1,208.2"/>
<path d="M679.2,216.5 L681.5,209.1"/>
<path d="M680.1,217.6 L684.0,210.4"/>
<path d="M680.8,223.6 Q684.7,220.4 690.0,215.5"/>
<path d="M682.9,219.9 L688.1,213.4"/>
<path d="M686.6,221.4 L690.6,215.9"/>
<path d="M686.5,223.9 L692.6,218.3"/>
<path d="M690.1,226.3 L695.4,222.9"/>
<path d="M690.6,227.8 L696.1,224.5"/>
<path d="M690.7,229.8 L697.1,227.0"/>
<path d="M686.0,235.1 Q691.3,236.1 698.1,236.5"/>
<path d="M694.7,237.6 L699.0,237.4"/>
<path d="M694.3,238.7 L699.0,238.7"/>
<path d="M690.6,241.2 Q693.2,238.5 697.8,235.1"/>
<path d="M692.5,246.0 L697.8,247.8"/>
<path d="M691.1,247.0 L697.3,249.5"/>
<path d="M684.8,245.2 Q691.9,244.9 697.8,246.3"/>
<path d="M688.6,251.4 L694.7,255.4"/>
<path d="M689.2,254.6 L692.8,258.4"/>
<path d="M686.6,258.7 L688.7,263.1"/>
<path d="M680.1,260.8 L682.8,267.2"/>
<path d="M675.7,261.9 L675.9,269.6"/>
<path d="M671.7,264.8 L672.7,270.0"/>
<path d="M672.1,263.6 L670.8,270.0"/>
<path d="M670.3,257.8 Q672.8,264.3 674.2,268.8"/>
<path d="M667.1,264.8 L665.2,269.1"/>
<path d="M663.6,263.4 L662.8,268.4"/>
<path d="M663.5,255.9 L660.8,262.6"/>
<path d="M664.4,252.0 Q664.6,256.4 664.1,262.6"/>
<path d="M660.3,255.0 L656.9,259.7"/>
<path d="M657.6,251.9 L653.8,256.3"/>
<path d="M659.9,249.9 Q659.0,254.4 657.7,257.8"/>
<path d="M654.2,248.8 L650.6,251.1"/>
<path d="M654.6,246.6 L649.8,249.0"/>
<path d="M657.2,240.6 Q653.4,238.3 648.8,237.7"/>
<path d="M652.6,241.0 L648.1,241.6"/>
<path d="M651.3,238.5 L647.9,238.5"/>
<path d="M653.3,237.1 L648.0,236.7"/>
</g>
<path d="M650.3,212.6 C655,210.5 660.5,209.3 665.8,208.8 C672,207.6 678,207.1 683.9,207.5 C688.5,209.5 692.5,212.5 695.6,216.5 C699.5,220.2 702.5,224.6 704.6,229.4 C706.2,234.5 706.6,239.8 705.9,245 C705,250.5 702.8,255.8 699.4,260.4 C696,264.8 691.6,268.4 686.5,270.8 C681.5,272.6 676.2,273 671,272 C666.8,270 663.3,266.9 660.7,263 C658,259 655.8,254.6 654.2,250 C651.5,246 649.3,241.7 647.8,237.2 C646.2,232.2 645.3,227 645.2,221.7 C646,218 647.7,215 650.3,212.6 Z" fill="none" stroke="#d3b892" stroke-width="3.4" filter="url(#b1)" opacity="0.85"/>
<g stroke="#b39471" stroke-width="1.3" fill="none" stroke-linecap="round" filter="url(#b03)">
<path d="M650.5,234 C652,238.5 656,242.5 662.5,243.9 C660,240 657.5,236.5 656,232"/>
<path d="M681.9,245 C685,249.5 688.5,252.5 692.7,254.7"/>
<path d="M664.7,215.9 C665.5,220.5 667,225 669,228.8"/>
<path d="M686.2,222.3 C683.5,225.5 681.3,229 679.8,233.1"/>
<path d="M671.2,254.7 C671.5,258.5 672.3,262 673.3,265.5"/>
<path d="M694,236 C690,236.5 686,237.3 682.5,238.5"/>
<path d="M660,257 C662.5,254.5 664.8,251.8 666.5,249"/>
</g>
<ellipse cx="670.5" cy="238" rx="6.5" ry="5.5" fill="#fefcf8" filter="url(#b1)"/>
<path d="M657,250.5 C662,247 667,243 672,238 C676,234 680,230 683,226" stroke="#fefcf8" stroke-width="2.2" fill="none" stroke-linecap="round" filter="url(#b05)"/>
<path d="M672,238 C668,233 664,229 660,226" stroke="#fefcf8" stroke-width="1.8" fill="none" stroke-linecap="round" filter="url(#b05)"/>
<path d="M672,238 C675,243 679,248 684,252" stroke="#fefcf8" stroke-width="1.8" fill="none" stroke-linecap="round" filter="url(#b05)"/>
<path d="M672,238 C672,245 671.5,251 670.5,257" stroke="#fefcf8" stroke-width="1.5" fill="none" stroke-linecap="round" filter="url(#b05)"/>
<path d="M672,238 C678,238.5 684,239.5 690,241" stroke="#fefcf8" stroke-width="1.5" fill="none" stroke-linecap="round" filter="url(#b05)"/>
</g>
<!-- velum / 4th ventricle band -->
<path d="M641,213 C644,210.5 648,210.5 650.3,212.6 C647.5,215 646,218 645.6,221.7 C645.6,227 646.5,232.2 648.1,237.2 C649.6,241.7 651.8,246 654.5,250 C655.5,252.5 656.5,255 658,257.5 L655.5,259 C653,254.5 650.5,250 648.5,246 C646,240 644.2,233 643.6,226 C643.4,221 642.5,216.5 641,213 Z" fill="#dbc39d"/>
<!-- leader lines -->
<g class="ld">
<path d="M505,107.5 L513.4,156.6"/>
<path d="M611.9,75.2 L601.2,177.6"/>
<path d="M673,88.8 L644.9,117.9"/>
<path d="M741.4,189 L719.8,184"/>
<path d="M744.6,212.2 L636.7,223.4"/>
<path d="M744.6,212.6 L630.2,233.1"/>
<path d="M740.3,226.5 L703.6,230.4"/>
<path d="M722,244.4 L652.8,252.5"/>
<path d="M496.2,213.9 L615.8,203.3"/>
<path d="M503.7,238.8 L604.5,212.3"/>
<path d="M515.6,252.7 L564.1,241.4"/>
<path d="M535,266.6 L596.4,227.8"/>
<path d="M547.9,281.8 L591.6,247.9"/>
<path d="M552.8,291.5 L581.9,259.2"/>
<path d="M562.5,304.4 L607.7,233.3"/>
<path d="M598.3,285.3 L624.2,254"/>
<path d="M619.9,300.4 L650,291.7"/>
<path d="M639.3,316.5 L658.7,310"/>
</g>
<!-- labels -->
<g class="lab">
<text x="592.4" y="71.9" textLength="55.4" lengthAdjust="spacingAndGlyphs">Corpus callosum</text>
<text x="665.5" y="86" textLength="40.3" lengthAdjust="spacingAndGlyphs">Parietal lobe</text>
<text x="482" y="104.6" textLength="38.5" lengthAdjust="spacingAndGlyphs">Frontal lobe</text>
<text x="743.5" y="193.1" textLength="43.8" lengthAdjust="spacingAndGlyphs">Occipital lobe</text>
<text x="748.9" y="214.8" textLength="28.5" lengthAdjust="spacingAndGlyphs">Midbrain</text>
<text x="742.4" y="229.3" textLength="37.3" lengthAdjust="spacingAndGlyphs">Cerebellum</text>
<text x="723.7" y="244.4" textLength="56.5" lengthAdjust="spacingAndGlyphs">Choroid plexus in</text>
<text x="723.7" y="253.7" textLength="47.8" lengthAdjust="spacingAndGlyphs">fourth ventricle</text>
<text x="440" y="211.3" textLength="57.2" lengthAdjust="spacingAndGlyphs">Choroid plexus in</text>
<text x="440" y="220.2" textLength="44" lengthAdjust="spacingAndGlyphs">third ventricle</text>
<text x="472" y="241.8" textLength="31.6" lengthAdjust="spacingAndGlyphs">Thalamus</text>
<text x="476.5" y="256.6" textLength="37.8" lengthAdjust="spacingAndGlyphs">Optic nerve</text>
<text x="487.7" y="272" textLength="46.8" lengthAdjust="spacingAndGlyphs">Hypothalamus</text>
<text x="500.8" y="285.5" textLength="46.8" lengthAdjust="spacingAndGlyphs">Pituitary gland</text>
<text x="505.9" y="298.1" textLength="45.4" lengthAdjust="spacingAndGlyphs">Temporal lobe</text>
<text x="526" y="311.3" textLength="42" lengthAdjust="spacingAndGlyphs">Hippocampus</text>
<text x="579.5" y="286" textLength="15.2" lengthAdjust="spacingAndGlyphs">Pons</text>
<text x="592.9" y="304.3" textLength="25.9" lengthAdjust="spacingAndGlyphs">Medulla</text>
<text x="609" y="323" textLength="36.8" lengthAdjust="spacingAndGlyphs">Spinal cord</text>
</g>
<!-- artist signature -->
<path d="M714.5,217 L714.8,223 M713,220.5 C714.5,219.5 716,220.5 716.5,222 C717.5,220.5 718.5,220.5 719.5,221.5 C720.5,220.5 721.5,220.5 722.5,221 M714,224 C715,225.5 716.5,225.8 717.5,224.8" fill="none" stroke="#6d7a86" stroke-width="0.4"/>
<!--END-ANATOMY-->
</g>
</svg>
</body>
</html>
